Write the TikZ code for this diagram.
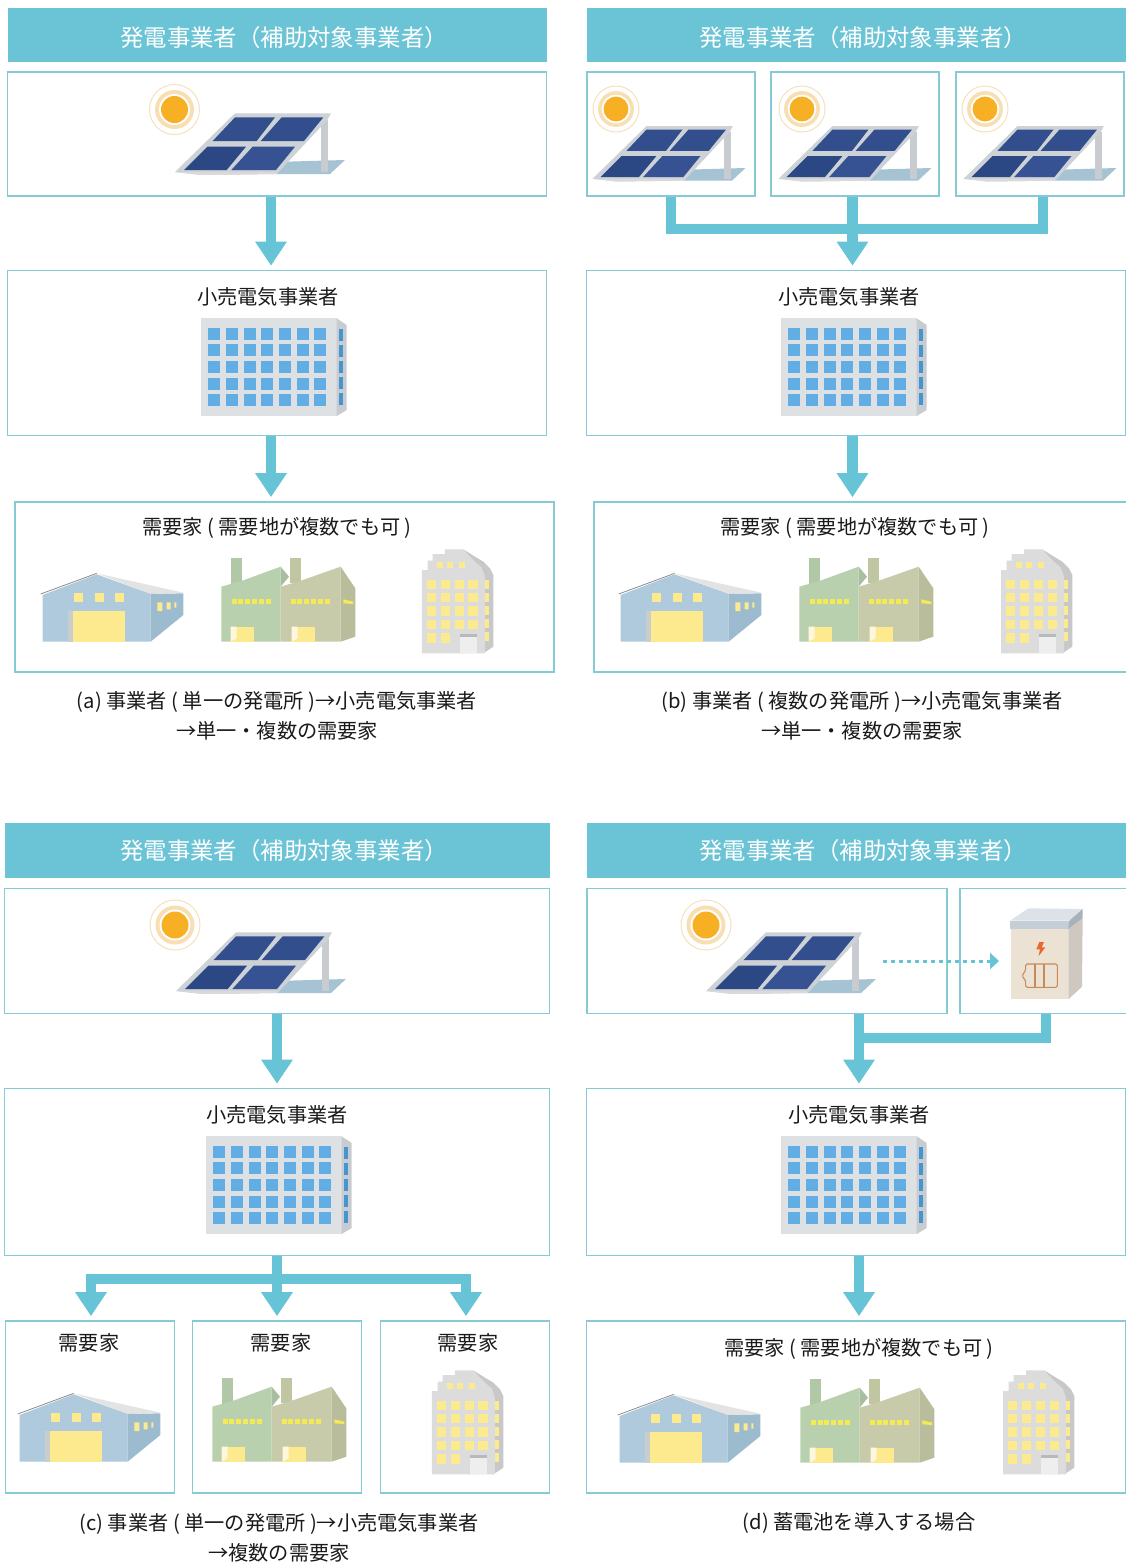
\documentclass[tikz,border=0pt]{standalone}
\usepackage{fontspec}
\setmainfont{Noto Sans CJK JP}
\usetikzlibrary{arrows.meta}
\definecolor{hdr}{HTML}{6BC4D6}
\definecolor{edge}{HTML}{86CAD5}
\definecolor{flowc}{HTML}{66C4D6}
\definecolor{txt}{HTML}{1A1A1A}
\newcommand{\hdrtext}[1]{\hspace{14pt}\raisebox{#1}[0pt][0pt]{発電事業者（補助対象事業者）}}
\tikzset{
 x=1pt,y=-1pt,
 header/.style={fill=hdr,text=white,inner sep=0,font=\fontsize{23.4}{26}\selectfont,anchor=center},
 boxn/.style={draw=edge,line width=1.6pt,fill=white,inner sep=0,anchor=center},
 flow/.style={draw=flowc,line width=10.5pt,line join=miter,-{Triangle[width=30pt,length=24pt,inset=0pt]},shorten >=4pt},
 flowplain/.style={draw=flowc,line width=10pt,line join=miter},
 lab/.style={text=txt,inner sep=0,font=\fontsize{20.2}{23}\selectfont,anchor=center},
 captext/.style={text=txt,inner sep=0,font=\fontsize{20.2}{30}\selectfont,align=center,anchor=center},
 pv/.pic={
  \fill[fill={rgb,255:red,166;green,195;blue,211}] (470,275)--(645,270)--(600,312)--(440,312)--cycle;
  \fill[fill={rgb,255:red,200;green,204;blue,208}] (573,150)--(595,150)--(595,307)--(573,307)--cycle;
  \fill[fill={rgb,255:red,205;green,210;blue,215}] (315,130)--(603,130)--(592,150)--(440,312)--(215,315)--(135,306)--cycle;
  \fill[fill=white!70!gray] (135,306)--(438,306)--(440,312)--(215,315)--cycle;
  \fill[fill={rgb,255:red,50;green,78;blue,140}] (315,142)--(435,142)--(380,213)--(248,213)--cycle;
  \fill[fill={rgb,255:red,50;green,78;blue,140}] (455,142)--(580,142)--(522,213)--(392,213)--cycle;
  \fill[fill={rgb,255:red,44;green,72;blue,132}] (232,230)--(348,230)--(290,300)--(162,300)--cycle;
  \fill[fill={rgb,255:red,54;green,82;blue,146}] (368,230)--(495,230)--(438,300)--(304,300)--cycle;
 },
 sunp/.pic={
  \draw[color={rgb,255:red,247;green,224;blue,190},line width=1pt] (0,0) circle (25);
  \fill[fill={rgb,255:red,249;green,222;blue,178}] (0,0) circle (19.5);
  \fill[fill=white] (0,0) circle (15.5);
  \fill[fill={rgb,255:red,247;green,176;blue,36}] (0,0) circle (13.5);
 },
 officep/.pic={
  \fill[fill={rgb,255:red,222;green,225;blue,228}] (33,25) rectangle (440,318);
  \fill[fill={rgb,255:red,200;green,204;blue,208}] (440,25)--(470,45)--(470,300)--(440,318)--cycle;
  \foreach \c in {0,...,6}{\foreach \r in {0,...,4}{
   \fill[fill={rgb,255:red,98;green,173;blue,227}] ({55+53*\c},{53+50*\r}) rectangle ++(36,36);}}
  \foreach \r in {0,...,4}{\fill[fill={rgb,255:red,70;green,150;blue,205}] (446,{58+48*\r}) rectangle ++(13,34);}
 },
 warehousep/.pic={
  \fill[fill={rgb,255:red,227;green,227;blue,227}] (230,100)--(490,158)--(392,162)--cycle;
  \fill[fill={rgb,255:red,174;green,202;blue,220}] (68,165)--(230,103)--(392,162)--(392,305)--(68,305)--cycle;
  \fill[fill={rgb,255:red,157;green,187;blue,207}] (392,162)--(490,160)--(490,225)--(392,305)--cycle;
  \draw[color={rgb,255:red,140;green,140;blue,140},line width=.8pt] (62,162)--(230,100);
  \fill[fill={rgb,255:red,200;green,205;blue,205}] (145,212) rectangle (160,305);
  \fill[fill={rgb,255:red,253;green,233;blue,142}] (160,212) rectangle (315,305);
  \foreach \x in {163,225,285}{\fill[fill={rgb,255:red,253;green,233;blue,142}] (\x,160) rectangle ++(27,25);}
  \fill[fill={rgb,255:red,253;green,233;blue,142}] (412,187) rectangle (427,213) (440,187) rectangle (452,208) (463,187) rectangle (469,203);
 },
 factoryp/.pic={
  \fill[fill={rgb,255:red,176;green,200;blue,166}] (632,55) rectangle (667,135);
  \fill[fill={rgb,255:red,168;green,190;blue,160}] (782,80)--(807,110)--(782,140)--cycle;
  \fill[fill={rgb,255:red,184;green,208;blue,174}] (604,140)--(667,122)--(782,80)--(782,305)--(604,305)--cycle;
  \fill[fill={rgb,255:red,192;green,198;blue,162}] (810,55) rectangle (843,130);
  \fill[fill={rgb,255:red,200;green,203;blue,169}] (782,140)--(843,122)--(962,80)--(962,305)--(782,305)--cycle;
  \fill[fill={rgb,255:red,185;green,189;blue,156}] (962,80)--(1006,145)--(1006,290)--(962,305)--cycle;
  \foreach \x in {635,812}{\foreach \i in {0,...,5}{
   \fill[fill={rgb,255:red,244;green,234;blue,85}] ({\x+20.5*\i},178) rectangle ++(15,14);}}
  \fill[fill={rgb,255:red,244;green,234;blue,85}] (970,178)--(1000,185)--(1000,192)--(970,190)--cycle;
  \foreach \x in {632,815}{
   \fill[fill={rgb,255:red,253;green,233;blue,142}] (\x,260) rectangle ++(71,45);
   \fill[fill={rgb,255:red,255;green,246;blue,222}] (\x,260)--({\x+18},260)--({\x+18},295)--(\x,305)--cycle;}
 },
 towerp/.pic={
  \fill[fill={rgb,255:red,200;green,200;blue,200}] (1330,28)--(1365,50)--(1390,65)--(1410,85)--(1420,105)--(1420,320)--(1390,340)--(1390,100)--cycle;
  \fill[fill={rgb,255:red,220;green,220;blue,220}] (1206,90)--(1223,90)--(1223,62)--(1238,62)--(1238,42)--(1275,42)--(1275,28)--(1330,28)--(1345,45)--(1365,65)--(1385,82)--(1395,110)--(1395,340)--(1206,340)--cycle;
  \foreach \c in {0,...,3}{\foreach \r in {0,...,3}{
   \fill[fill={rgb,255:red,252;green,234;blue,142}] ({1221+41.5*\c},{119+40*\r}) rectangle ++(28,28);}}
  \foreach \c in {0,1}{\fill[fill={rgb,255:red,252;green,234;blue,142}] ({1221+41.5*\c},280) rectangle ++(28,28);}
  \foreach \x in {1250,1282,1318}{\fill[fill={rgb,255:red,252;green,234;blue,142}] (\x,66) rectangle ++(18,18);}
  \foreach \r in {0,...,4}{\fill[fill={rgb,255:red,252;green,234;blue,142}] (1396,{120+39*\r}) rectangle ++(10,26);}
  \fill[fill={rgb,255:red,238;green,238;blue,238}] (1320,290) rectangle (1370,340);
  \fill[fill={rgb,255:red,185;green,185;blue,185}] (1320,282) rectangle (1370,290);
 },
 batteryp/.pic={
  \fill[fill={rgb,255:red,221;green,226;blue,232}] (450,92)--(505,55)--(668,57)--(628,92)--cycle;
  \fill[fill={rgb,255:red,197;green,206;blue,214}] (450,92) rectangle (628,118);
  \fill[fill={rgb,255:red,169;green,178;blue,186}] (628,92)--(668,57)--(668,85)--(625,118)--cycle;
  \fill[fill={rgb,255:red,236;green,226;blue,211}] (452,118) rectangle (625,328);
  \fill[fill={rgb,255:red,207;green,200;blue,192}] (625,118)--(668,85)--(666,290)--(625,328)--cycle;
  \fill[fill={rgb,255:red,232;green,104;blue,44}] (538,156)--(552,156)--(545,172)--(556,172)--(536,198)--(540,178)--(529,178)--cycle;
  \draw[color={rgb,255:red,198;green,138;blue,92},line width=1.1pt,rounded corners=1.5pt] (497,222)--(592,222)--(592,292)--(497,292)--(497,272)--(486,258)--(497,240)--cycle;
  \draw[color={rgb,255:red,198;green,138;blue,92},line width=1.1pt] (525,222)--(525,292) (552,222)--(552,292);
 }
}
\begin{document}
\begin{tikzpicture}
\useasboundingbox[fill=white] (0,0) rectangle (1126,1567);
% (a)
\node[header,minimum width=539pt,minimum height=54pt] (ah) at (277,34.5) {\hdrtext{-11.5pt}};
\node[boxn,minimum width=539pt,minimum height=124pt] (ag) at (277,134) {};
\node[boxn,minimum width=539pt,minimum height=165pt] (ar) at (277,353) {};
\node[boxn,minimum width=539pt,minimum height=170pt] (ac) at (284.5,587) {};
\node[lab] (art) at (268,297) {小売電気事業者};
\node[lab] (act) at (277,528) {需要家 ( 需要地が複数でも可 )};
\pic[scale=1/3] at (130,70) {pv};
\pic at (174.5,109.5) {sunp};
\pic[scale=1/3] at (190,310) {officep};
\pic[scale=1/3] at (20,540) {warehousep};
\pic[scale=1/3] at (20,540) {factoryp};
\pic[scale=1/3] at (20,540) {towerp};
\draw[flow] ([xshift=-6pt]ag.south) -- ([xshift=-6pt]ar.north);
\draw[flow] ([xshift=-6pt]ar.south) -- ([xshift=-13.5pt]ac.north);
\node[captext] (acap) at (277,716) {(a) 事業者 ( 単一の発電所 )→小売電気事業者\\→単一・複数の需要家};
% (b)
\node[header,minimum width=539pt,minimum height=54pt] (bh) at (856,34.5) {\hdrtext{-11.5pt}};
\node[boxn,minimum width=168pt,minimum height=124pt] (bg1) at (671,134) {};
\node[boxn,minimum width=168pt,minimum height=124pt] (bg2) at (855,134) {};
\node[boxn,minimum width=168pt,minimum height=124pt] (bg3) at (1040,134) {};
\node[boxn,minimum width=539pt,minimum height=165pt] (br) at (856,353) {};
\node[boxn,minimum width=539pt,minimum height=170pt] (bc) at (863.5,587) {};
\node[lab] (brt) at (849,297) {小売電気事業者};
\node[lab] (bct) at (855,528) {需要家 ( 需要地が複数でも可 )};
\foreach \ox/\sx in {552/616,738/802,923/985}{
 \pic[scale=.3] at (\ox,87) {pv};
 \pic[scale=.92] at (\sx,109) {sunp};
}
\pic[scale=1/3] at (770,310) {officep};
\pic[scale=1/3] at (598,540) {warehousep};
\pic[scale=1/3] at (598,540) {factoryp};
\pic[scale=1/3] at (599,540) {towerp};
\coordinate (bj1) at (671,229);
\coordinate (bj2) at (1043,229);
\draw[flowplain] (bg1.south) -- (bj1) -- (bj2) -- (bg3.south -| bj2);
\draw[flow] ([xshift=-2.5pt]bg2.south) -- ([xshift=-3.5pt]br.north);
\draw[flow] ([xshift=-3.5pt]br.south) -- ([xshift=-11pt]bc.north);
\node[captext] (bcap) at (862,716) {(b) 事業者 ( 複数の発電所 )→小売電気事業者\\→単一・複数の需要家};
% (c)
\node[header,minimum width=545pt,minimum height=55pt] (ch) at (277,850) {\hdrtext{-9.5pt}};
\node[boxn,minimum width=545pt,minimum height=125pt] (cg) at (277,951) {};
\node[boxn,minimum width=545pt,minimum height=167pt] (cr) at (277,1172) {};
\node[boxn,minimum width=169pt,minimum height=172pt] (cc1) at (90,1407) {};
\node[boxn,minimum width=169pt,minimum height=172pt] (cc2) at (277,1407) {};
\node[boxn,minimum width=169pt,minimum height=172pt] (cc3) at (465,1407) {};
\node[lab] (crt) at (277,1115) {小売電気事業者};
\node[lab] (cc1t) at (89,1343) {需要家};
\node[lab] (cc2t) at (281,1343) {需要家};
\node[lab] (cc3t) at (468,1343) {需要家};
\pic[scale=1/3] at (131,889) {pv};
\pic at (175,925) {sunp};
\pic[scale=1/3] at (195,1128) {officep};
\pic[scale=1/3] at (-3,1360) {warehousep};
\pic[scale=1/3] at (11,1360) {factoryp};
\pic[scale=1/3] at (30,1361) {towerp};
\draw[flow] (cg.south) -- (cr.north);
\coordinate (cj) at (277,1279);
\coordinate (cj1) at (91,1279);
\coordinate (cj3) at (466,1279);
\draw[flow] (cj) -- (cj1) -- (cj1 |- cc1.north);
\draw[flow] (cr.south) -- (cc2.north);
\draw[flow] (cj) -- (cj3) -- (cj3 |- cc3.north);
\node[captext] (ccap) at (279,1538) {(c) 事業者 ( 単一の発電所 )→小売電気事業者\\→複数の需要家};
% (d)
\node[header,minimum width=539pt,minimum height=55pt] (dh) at (856,850) {\hdrtext{-9.5pt}};
\node[boxn,minimum width=360pt,minimum height=125pt] (dg1) at (767,951) {};
\node[boxn,minimum width=180pt,minimum height=125pt] (dg2) at (1050,951) {};
\node[boxn,minimum width=539pt,minimum height=167pt] (dr) at (856,1172) {};
\node[boxn,minimum width=539pt,minimum height=172pt] (dc) at (856,1407) {};
\node[lab] (drt) at (859,1115) {小売電気事業者};
\node[lab] (dct) at (859,1349) {需要家 ( 需要地が複数でも可 )};
\pic[scale=1/3] at (661,889) {pv};
\pic at (706,925) {sunp};
\pic[scale=1/3] at (860,890) {batteryp};
\pic[scale=1/3] at (770,1128) {officep};
\pic[scale=1/3] at (597,1361) {warehousep};
\pic[scale=1/3] at (599,1361) {factoryp};
\pic[scale=1/3] at (601,1361) {towerp};
\coordinate (dj) at (859,1038);
\coordinate (dj2) at (1046,1038);
\draw[flowplain] (dj) -- (dj2) -- (dg2.south -| dj2);
\draw[flow] ([xshift=92pt]dg1.south) -- ([xshift=3pt]dr.north);
\draw[flow] ([xshift=3pt]dr.south) -- ([xshift=3pt]dc.north);
\coordinate (ds) at (883,961);
\coordinate (de) at (999,961);
\draw[draw=flowc,line width=3pt,dash pattern=on 4pt off 4pt,-{Triangle[width=16pt,length=9pt]}] (ds) -- (de);
\node[captext] (dcap) at (859,1523) {(d) 蓄電池を導入する場合};
\end{tikzpicture}
\end{document}
